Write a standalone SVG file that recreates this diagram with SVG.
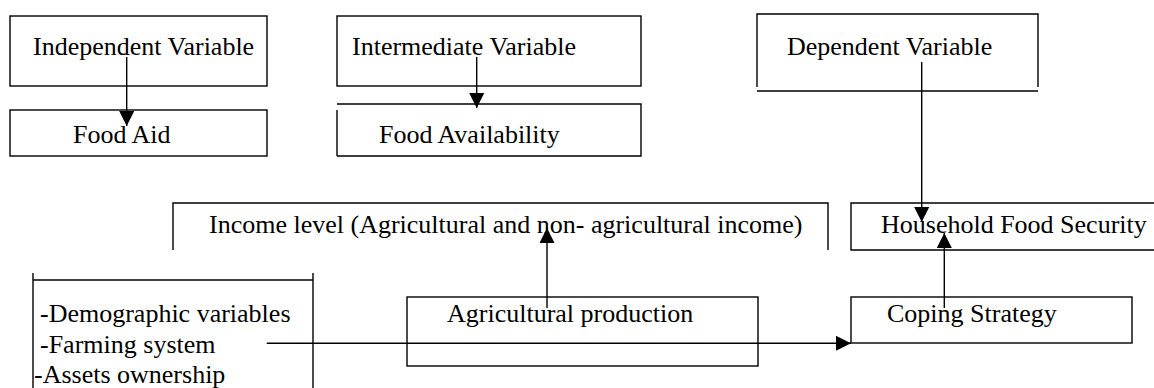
<svg xmlns="http://www.w3.org/2000/svg" width="1154" height="388" viewBox="0 0 1154 388">
<style>
.b{fill:none;stroke:#000;stroke-width:1.4}
.c{fill:none;stroke:#000;stroke-width:1.4}
text{font-family:"Liberation Serif","Times New Roman",serif;font-size:26px;fill:#000}
</style>
<defs>
<marker id="ah" markerUnits="userSpaceOnUse" markerWidth="15" markerHeight="15" refX="14" refY="7" orient="auto" viewBox="0 0 14 14">
<path d="M0,0 L14,7 L0,14 z" fill="#000"/>
</marker>
</defs>
<rect width="1154" height="388" fill="#fff"/>
<g id="independent"><rect class="b" x="10" y="16" width="257" height="70"/><text x="33" y="55">Independent Variable</text></g>
<g id="food-aid"><rect class="b" x="10" y="110" width="257" height="46"/><text x="73" y="143">Food Aid</text></g>
<g id="intermediate"><rect class="b" x="337" y="16" width="304" height="70"/><text x="352" y="55">Intermediate Variable</text></g>
<g id="food-availability"><path class="b" d="M337,104 H641 V156 H337 M337,110 V156"/><text x="379" y="143">Food Availability</text></g>
<g id="dependent"><path class="b" d="M757,87 V14 H1038 V87 M757,91 H1038"/><text x="787" y="55">Dependent Variable</text></g>
<g id="income"><path class="b" d="M173,250 V203 H828 V250"/><text x="209" y="233">Income level (Agricultural and non- agricultural income)</text></g>
<g id="household"><path class="b" d="M1156,203 H851 V250 H1156"/><text x="881" y="233">Household Food Security</text></g>
<g id="agri-production"><rect class="b" x="407" y="297" width="351" height="69"/><text x="447" y="322">Agricultural production</text></g>
<g id="coping"><rect class="b" x="851" y="297" width="281" height="46"/><text x="887" y="322">Coping Strategy</text></g>
<g id="factors"><path class="b" d="M33,389 V273 M33,280 H313 M313,273 V389"/>
<text x="40" y="322">-Demographic variables</text>
<text x="40" y="353">-Farming system</text>
<text x="34" y="383">-Assets ownership</text></g>
<g id="connectors">
<line class="c" x1="126.7" y1="57" x2="126.7" y2="126" marker-end="url(#ah)"/>
<line class="c" x1="476.7" y1="57" x2="476.7" y2="108" marker-end="url(#ah)"/>
<line class="c" x1="921.7" y1="62" x2="921.7" y2="222" marker-end="url(#ah)"/>
<line class="c" x1="547" y1="308" x2="547" y2="228" marker-end="url(#ah)"/>
<line class="c" x1="944.3" y1="308" x2="944.3" y2="233" marker-end="url(#ah)"/>
<line class="c" x1="266.7" y1="343.3" x2="851" y2="343.3" marker-end="url(#ah)"/>
</g>
</svg>
